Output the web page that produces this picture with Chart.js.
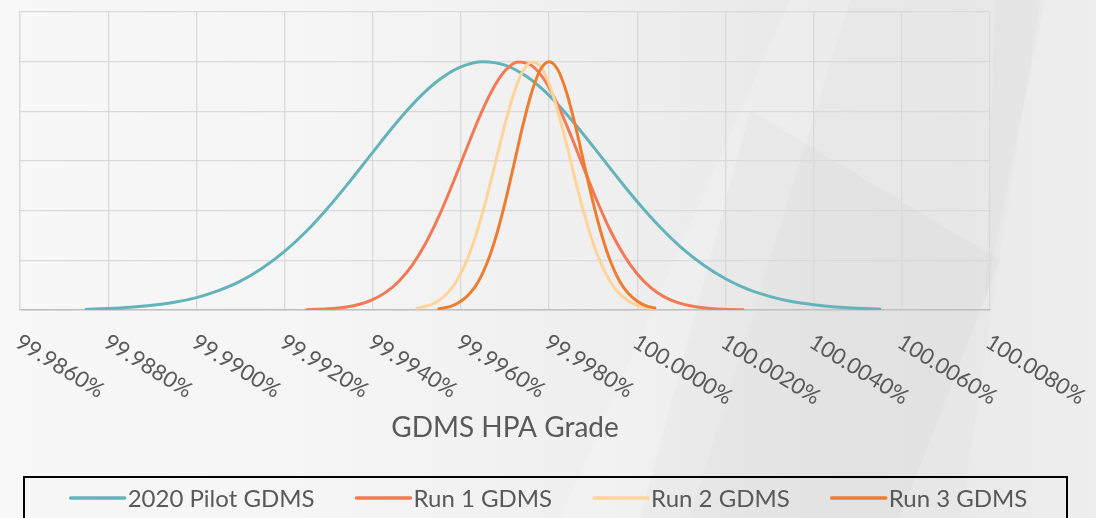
<!DOCTYPE html>
<html>
<head>
<meta charset="utf-8">
<script src="https://cdn.jsdelivr.net/npm/chart.js@4.4.1/dist/chart.umd.min.js"></script>
<style>
html,body{margin:0;padding:0;}
body{width:1096px;height:518px;overflow:hidden;position:relative;
  background:linear-gradient(90deg,#f8f8f8 0%,#f5f5f5 30%,#efefef 55%,#e8e8e8 75%,#e7e7e7 88%,#ececec 100%);}
.shape{position:absolute;left:0;top:0;width:1096px;height:518px;}
#wrap{position:absolute;left:0;top:0;width:1096px;height:518px;}
</style>
</head>
<body>
<div class="shape" style="background:rgba(255,255,255,0.18);clip-path:polygon(790px 0,850px 0,690px 518px,560px 518px);"></div>
<div class="shape" style="background:rgba(0,0,0,0.02);clip-path:polygon(750px 110px,1000px 260px,900px 518px,640px 518px);"></div>
<div class="shape" style="background:rgba(255,255,255,0.14);clip-path:polygon(1040px 0,1096px 0,1096px 518px,960px 518px);"></div>
<div class="shape" style="background:rgba(0,0,0,0.015);clip-path:polygon(995px 0,1045px 0,985px 300px);"></div>
<div id="wrap"><canvas id="c"></canvas></div>
<script>
// ---- data ----
const xTickValues = [99.986, 99.988, 99.990, 99.992, 99.994, 99.996, 99.998, 100.000, 100.002, 100.004, 100.006, 100.008];
const xTickLabels = ['99.9860%','99.9880%','99.9900%','99.9920%','99.9940%','99.9960%','99.9980%','100.0000%','100.0020%','100.0040%','100.0060%','100.0080%'];
const seriesNames = ['2020 Pilot GDMS','Run 1 GDMS','Run 2 GDMS','Run 3 GDMS'];

const pilotX = [99.9875,99.9880,99.9885,99.9890,99.9895,99.9900,99.9905,99.9910,99.9915,99.9920,99.9925,99.9930,99.9935,99.9940,99.9945,99.9950,99.9955,99.9960,99.9965,99.9970,99.9975,99.9980,99.9985,99.9990,99.9995,100.0000,100.0005,100.0010,100.0015,100.0020,100.0025,100.0030,100.0035,100.0040,100.0045,100.0050,100.0055];
const pilotY = [0.003,0.006,0.011,0.019,0.031,0.050,0.078,0.116,0.169,0.236,0.318,0.415,0.522,0.635,0.746,0.846,0.926,0.979,1.000,0.986,0.939,0.864,0.767,0.658,0.545,0.436,0.337,0.251,0.181,0.126,0.084,0.055,0.034,0.021,0.012,0.007,0.004];

const run1X = [99.9925,99.9928,99.9931,99.9934,99.9937,99.9940,99.9943,99.9946,99.9949,99.9952,99.9955,99.9958,99.9961,99.9964,99.9967,99.9970,99.9973,99.9976,99.9979,99.9982,99.9985,99.9988,99.9991,99.9994,99.9997,100.0000,100.0003,100.0006,100.0009,100.0012,100.0015,100.0018,100.0021,100.0024];
const run1Y = [0.001,0.003,0.006,0.012,0.023,0.042,0.072,0.117,0.182,0.269,0.377,0.503,0.637,0.769,0.882,0.963,0.999,0.985,0.925,0.825,0.700,0.565,0.434,0.316,0.220,0.145,0.091,0.054,0.031,0.017,0.009,0.004,0.002,0.001];

const run2X = [99.9950,99.9952,99.9954,99.9956,99.9958,99.9960,99.9962,99.9964,99.9966,99.9968,99.9970,99.9972,99.9974,99.9976,99.9978,99.9980,99.9982,99.9984,99.9986,99.9988,99.9990,99.9992,99.9994,99.9996,99.9998,100.0000,100.0002,100.0004];
const run2Y = [0.007,0.015,0.028,0.052,0.090,0.148,0.229,0.336,0.464,0.606,0.748,0.872,0.960,0.999,0.982,0.912,0.800,0.664,0.520,0.385,0.269,0.178,0.111,0.065,0.036,0.019,0.010,0.004];

const run3X = [99.9955,99.9956,99.9958,99.9960,99.9962,99.9964,99.9966,99.9968,99.9970,99.9972,99.9974,99.9976,99.9978,99.9980,99.9982,99.9984,99.9986,99.9988,99.9990,99.9992,99.9994,99.9996,99.9998,100.0000,100.0002,100.0004];
const run3Y = [0.005,0.008,0.017,0.035,0.066,0.116,0.192,0.298,0.431,0.584,0.739,0.874,0.967,1.000,0.967,0.874,0.739,0.584,0.431,0.298,0.192,0.116,0.066,0.035,0.017,0.008];

// ---- styles ----
const seriesColors = ['#63b4ba','#f47a55','#fed49a','#ee7d30'];
const textColor = '#595959';
const FONT = 'Lato, "Open Sans", sans-serif';

const pairs = (xs, ys) => xs.map((x, i) => ({x: x, y: ys[i]}));
const seriesData = [pairs(pilotX, pilotY), pairs(run1X, run1Y), pairs(run2X, run2Y), pairs(run3X, run3Y)];

const decor = {
  id: 'decor',
  afterDraw(chart) {
    const ctx = chart.ctx, xs = chart.scales.x, area = chart.chartArea;
    ctx.save();
    // rotated tick labels
    ctx.fillStyle = textColor;
    ctx.font = '22px ' + FONT;
    ctx.textAlign = 'left';
    ctx.textBaseline = 'alphabetic';
    xTickValues.forEach((v, i) => {
      const px = xs.getPixelForValue(v);
      ctx.save();
      ctx.translate(px - 6, area.bottom + 36);
      ctx.rotate(32 * Math.PI / 180);
      ctx.fillText(xTickLabels[i], 0, 0);
      ctx.restore();
    });
    // axis title
    ctx.font = '28px ' + FONT;
    ctx.textAlign = 'center';
    ctx.textBaseline = 'alphabetic';
    ctx.fillText('GDMS HPA Grade', (area.left + area.right) / 2, 437);
    // legend
    ctx.strokeStyle = '#000';
    ctx.lineWidth = 2;
    ctx.strokeRect(24, 477, 1043, 70);
    ctx.font = '24px ' + FONT;
    ctx.textAlign = 'left';
    ctx.textBaseline = 'middle';
    const lineLen = 54, gap = 3, itemGap = 42;
    const widths = seriesNames.map(n => ctx.measureText(n).width);
    let total = itemGap * (seriesNames.length - 1);
    widths.forEach(w => total += lineLen + gap + w);
    let x = 549 - total / 2;
    const y = 498;
    seriesNames.forEach((n, i) => {
      ctx.strokeStyle = seriesColors[i];
      ctx.lineWidth = 3.5;
      ctx.lineCap = 'round';
      ctx.beginPath();
      ctx.moveTo(x, y); ctx.lineTo(x + lineLen, y);
      ctx.stroke();
      ctx.fillStyle = textColor;
      ctx.fillText(n, x + lineLen + gap, y + 1);
      x += lineLen + gap + widths[i] + itemGap;
    });
    ctx.restore();
  }
};

new Chart(document.getElementById('c'), {
  type: 'line',
  data: {
    datasets: seriesData.map((d, i) => ({
      label: seriesNames[i],
      data: d,
      borderColor: seriesColors[i],
      backgroundColor: seriesColors[i],
      borderWidth: 3,
      pointRadius: 0,
      fill: false,
      tension: 0.4,
      cubicInterpolationMode: 'monotone',
      borderCapStyle: 'round',
      order: 4 - i
    }))
  },
  options: {
    responsive: true,
    maintainAspectRatio: false,
    animation: false,
    devicePixelRatio: 1,
    layout: { padding: { left: 20, right: 106, top: 12, bottom: 208 } },
    plugins: { legend: { display: false }, tooltip: { enabled: false } },
    scales: {
      x: {
        type: 'linear',
        min: 99.986, max: 100.008,
        afterBuildTicks: s => { s.ticks = xTickValues.map(v => ({value: v})); },
        afterFit: s => { s.height = 0; },
        ticks: { display: false },
        grid: { color: '#d9d9d9', lineWidth: 1.3, drawTicks: false },
        border: { color: '#bfbfbf', width: 1.6 }
      },
      y: {
        min: 0, max: 1.2,
        ticks: { display: false, stepSize: 0.2 },
        afterFit: s => { s.width = 0; },
        grid: { color: '#d9d9d9', lineWidth: 1.3, drawTicks: false },
        border: { color: '#d9d9d9', width: 1.3 }
      }
    }
  },
  plugins: [decor]
});
</script>
</body>
</html>
